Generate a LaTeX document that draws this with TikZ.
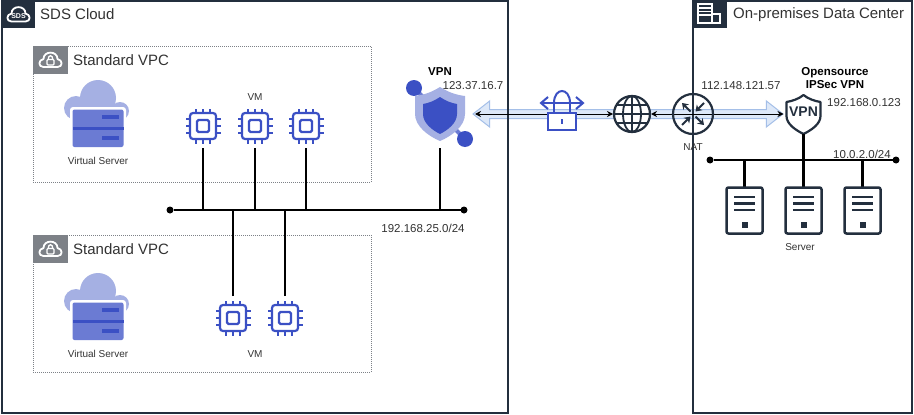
\documentclass[tikz,border=0pt]{standalone}
\usepackage{fontspec}
\setmainfont{Liberation Sans}
\usepackage{xcolor}
\usetikzlibrary{arrows.meta,positioning,shapes.arrows}
\definecolor{framedark}{HTML}{232F3E}
\definecolor{vpcgray}{HTML}{7D8187}
\definecolor{iconblue}{HTML}{3B50C4}
\definecolor{iconlight}{HTML}{A5B0E3}
\definecolor{iconmid}{HTML}{6B7BD3}
\definecolor{txtgray}{HTML}{333333}
\definecolor{tunnelline}{HTML}{A4BFE8}
\definecolor{tunnelfill}{HTML}{DDE8F8}

\begin{document}
\begin{tikzpicture}[
    x=1pt, y=-1pt,
    spot/.style={inner sep=0pt, outer sep=0pt, minimum size=#1},
    frame/.style={draw=framedark, line width=2.8pt, inner sep=0pt, outer sep=0pt},
    vpcbox/.style={draw=vpcgray, line width=1pt, densely dotted, minimum width=338pt, minimum height=136pt, inner sep=0pt, outer sep=0pt},
    framehead/.style={fill=framedark, minimum width=33pt, minimum height=27pt, inner sep=0pt, outer sep=0pt},
    vpchead/.style={fill=vpcgray, minimum width=35pt, minimum height=28pt, inner sep=0pt, outer sep=0pt},
    title/.style={font=\fontsize{15}{18}\selectfont, text=txtgray, inner sep=0pt},
    lbl/.style={font=\fontsize{10}{12}\selectfont, text=txtgray, inner sep=0pt},
    addr/.style={font=\fontsize{11.5}{14}\selectfont, text=txtgray, inner sep=0pt},
    strong/.style={font=\fontsize{11.5}{13}\selectfont\bfseries, text=black, align=center, inner sep=0pt},
    dot/.style={circle, fill=black, minimum size=7pt, inner sep=0pt, outer sep=0pt},
    wire/.style={line width=2.8pt, black},
    arr/.style={{Stealth[length=6pt,width=6pt]}-{Stealth[length=6pt,width=6pt]}, line width=1pt, black},
    tunnel/.style={double arrow, draw=tunnelline, fill=tunnelfill, line width=1pt, minimum width=25pt, double arrow head extend=8.5pt, double arrow tip angle=76, inner xsep=0pt, inner ysep=4pt, outer sep=0pt},
    cloudline/.pic={
        \draw[white, line width=1.8pt, line join=round] (-7,7) .. controls (-12.5,7) and (-12.5,0) .. (-7,-1) .. controls (-7,-9.5) and (7,-9.5) .. (7,-1) .. controls (12.5,0) and (12.5,7) .. (7,7) -- cycle;
    },
    chipicon/.pic={
        \draw[iconblue, line width=2.2pt, rounded corners=3pt] (-13,-13) rectangle (13,13);
        \draw[iconblue, line width=2.2pt, rounded corners=1.5pt] (-6,-6) rectangle (6,6);
        \foreach \p in {-7,0,7} {
            \draw[iconblue, line width=2.2pt] (\p,-13) -- (\p,-17.5);
            \draw[iconblue, line width=2.2pt] (\p,13) -- (\p,17.5);
            \draw[iconblue, line width=2.2pt] (-13,\p) -- (-17.5,\p);
            \draw[iconblue, line width=2.2pt] (13,\p) -- (17.5,\p);
        }
    },
    vsicon/.pic={
        \fill[iconlight] (0,-19) circle[radius=18];
        \fill[iconlight] (-22,-9) circle[radius=12];
        \fill[iconlight] (22,-6) circle[radius=9];
        \fill[iconlight] (-22,-9) rectangle (22,6);
        \fill[white, rounded corners=3pt] (-28,-10) rectangle (28,33);
        \fill[iconmid, rounded corners=2pt] (-25.5,-7.5) rectangle (25.5,30);
        \fill[iconblue] (-25.5,9.5) rectangle (25.5,13);
        \fill[iconblue] (4,-2) rectangle (21,2);
        \fill[iconblue] (4,19) rectangle (21,23);
    },
    servericon/.pic={
        \draw[framedark, line width=2.5pt, rounded corners=2pt, fill=white] (-18,-23) rectangle (18,23);
        \foreach \p in {-13.5,-7,-0.5} {
            \draw[framedark, line width=2.3pt] (-10.5,\p) -- (10.5,\p);
        }
        \fill[framedark] (-3,11.5) rectangle (3,17.5);
    },
    lockicon/.pic={
        \draw[iconblue, line width=2pt, fill=white] (-14,-1) rectangle (14,16);
        \draw[iconblue, line width=2pt] (0,5) -- (0,10);
        \draw[iconblue, line width=2pt] (-20,-11) -- (20,-11);
        \draw[iconblue, line width=2pt] (-14,-5) -- (-21,-11) -- (-14,-17);
        \draw[iconblue, line width=2pt] (14,-5) -- (21,-11) -- (14,-17);
        \draw[iconblue, line width=2pt] (-8,-11) -- (-8,-1);
        \draw[iconblue, line width=2pt] (8,-11) -- (8,-1);
        \draw[iconblue, line width=2pt] (-8,-11) .. controls (-8,-27) and (8,-27) .. (8,-11);
    },
    globeicon/.pic={
        \draw[framedark, line width=2.2pt, fill=white] (0,0) circle[radius=18];
        \draw[framedark, line width=1.8pt] (0,0) ellipse[x radius=9, y radius=18];
        \draw[framedark, line width=1.8pt] (0,-18) -- (0,18);
        \draw[framedark, line width=1.8pt] (-18,0) -- (18,0);
        \draw[framedark, line width=1.8pt] (-15.5,-9) -- (15.5,-9);
        \draw[framedark, line width=1.8pt] (-15.5,9) -- (15.5,9);
    },
    naticon/.pic={
        \draw[framedark, line width=2.2pt] (0,0) circle[radius=20];
        \draw[framedark, line width=2pt, -{Stealth[length=6pt,width=8pt]}] (-2.5,-2.5) -- (-11,-11);
        \draw[framedark, line width=2pt, -{Stealth[length=6pt,width=8pt]}] (11,-11) -- (2.5,-2.5);
        \draw[framedark, line width=2pt, -{Stealth[length=6pt,width=8pt]}] (-11,11) -- (-2.5,2.5);
        \draw[framedark, line width=2pt, -{Stealth[length=6pt,width=8pt]}] (2.5,2.5) -- (11,11);
    },
    shieldicon/.pic={
        \draw[iconmid, line width=4pt] (-26,-26) -- (25,25);
        \fill[iconlight] (0,-27) .. controls (-8,-22) and (-16,-19) .. (-25,-18) -- (-25,0) .. controls (-25,12) and (-12,22) .. (0,27) .. controls (12,22) and (25,12) .. (25,0) -- (25,-18) .. controls (16,-19) and (8,-22) .. (0,-27) -- cycle;
        \fill[iconblue] (0,-17) .. controls (-6,-13) and (-11,-11) .. (-17,-10) -- (-17,0) .. controls (-17,9) and (-8,16) .. (0,20) .. controls (8,16) and (17,9) .. (17,0) -- (17,-10) .. controls (11,-11) and (6,-13) .. (0,-17) -- cycle;
        \fill[iconblue] (-26,-26) circle[radius=8];
        \fill[iconblue] (25,25) circle[radius=8];
    },
    badgeicon/.pic={
        \draw[framedark, line width=2.2pt, fill=white, line join=round] (0,-19) .. controls (-5,-15) and (-11,-13) .. (-17,-12) -- (-17,2) .. controls (-17,10) and (-8,16) .. (0,20) .. controls (8,16) and (17,10) .. (17,2) -- (17,-12) .. controls (11,-13) and (5,-15) .. (0,-19) -- cycle;
    },
]
\useasboundingbox (0,0) rectangle (914,415);
\fill[white] (0,0) rectangle (914,415);

% Tunnel
\node[tunnel, minimum height=310pt] (tunnelarrow) at (628,114) {};

% SDS Cloud
\node[frame, minimum width=506pt, minimum height=412pt] (sdsframe) at (255,207) {};
\node[framehead] (sdshead) at (18.5,14.5) {};
\pic at (sdshead) {cloudline};
\node[font=\fontsize{7}{8}\selectfont\bfseries, text=white, inner sep=0pt] (sdsmark) at (18.5,16) {SDS};
\node[title, right=5pt of sdshead] (sdstitle) {SDS Cloud};

% On-premises
\node[frame, minimum width=219pt, minimum height=412pt] (dcframe) at (802.5,207) {};
\node[framehead, minimum width=34pt] (dchead) at (710,14.5) {};
\draw[white, line width=1.8pt] (698,4) rectangle (712,23);
\draw[white, line width=1.8pt] (712,14) rectangle (720,23);
\draw[white, line width=1.4pt] (698,8) -- (712,8);
\draw[white, line width=1.4pt] (698,11.5) -- (712,11.5);
\draw[white, line width=1.4pt] (698,15) -- (712,15);
\node[title, right=6pt of dchead] (dctitle) {On-premises Data Center};

% Upper VPC
\node[vpcbox] (vpca) at (202,114) {};
\node[vpchead] (vpcahead) at (50.5,60) {};
\pic at (vpcahead) {cloudline};
\draw[white, line width=1.3pt, rounded corners=1pt] (47,59.5) rectangle (54,65);
\draw[white, line width=1.3pt] (48.2,59.5) .. controls (48.2,54.5) and (52.8,54.5) .. (52.8,59.5);
\node[title, right=5pt of vpcahead] (vpcatitle) {Standard VPC};
\node[spot=1pt] (vsa) at (98,117) {};
\pic at (vsa) {vsicon};
\node[lbl] (vsalabel) at (98,161) {Virtual Server};

% Lower VPC
\node[vpcbox, minimum height=137pt] (vpcb) at (202,303.5) {};
\node[vpchead] (vpcbhead) at (50.5,249) {};
\pic at (vpcbhead) {cloudline};
\draw[white, line width=1.3pt, rounded corners=1pt] (47,248.5) rectangle (54,254);
\draw[white, line width=1.3pt] (48.2,248.5) .. controls (48.2,243.5) and (52.8,243.5) .. (52.8,248.5);
\node[title, right=5pt of vpcbhead] (vpcbtitle) {Standard VPC};
\node[spot=1pt] (vsb) at (98,310) {};
\pic at (vsb) {vsicon};
\node[lbl] (vsblabel) at (98,354) {Virtual Server};

% VMs
\node[spot=44pt] (chipa) at (203,126) {};
\node[spot=44pt, right=8pt of chipa] (chipb) {};
\node[spot=44pt, right=7pt of chipb] (chipc) {};
\node[spot=44pt] (chipd) at (233,318) {};
\node[spot=44pt, right=8pt of chipd] (chipe) {};
\foreach \c in {chipa,chipb,chipc,chipd,chipe} {
    \pic at (\c) {chipicon};
}
\node[lbl] (vmtop) at (255,97) {VM};
\node[lbl] (vmbottom) at (255,354) {VM};

% Bus 192.168.25.0/24
\node[dot] (busl) at (170,210) {};
\node[dot] (busr) at (464,210) {};
\draw[wire] (busl) -- (busr);
\node[addr] (busaddr) at (423,228) {192.168.25.0/24};

% VPN
\node[spot=68pt, minimum width=70pt] (vpn) at (440,114) {};
\pic at (vpn) {shieldicon};
\node[strong] (vpnlabel) at (440,72) {VPN};
\node[addr] (vpnaddr) at (473,86) {123.37.16.7};
\draw[wire] (vpn.south) -- (vpn.south |- busr);

\draw[wire] (chipa.south) -- (chipa.south |- busl);
\draw[wire] (chipb.south) -- (chipb.south |- busl);
\draw[wire] (chipc.south) -- (chipc.south |- busl);
\draw[wire] (chipd.north) -- (chipd.north |- busl);
\draw[wire] (chipe.north) -- (chipe.north |- busl);

% Internet path
\node[spot=24pt, minimum width=42pt] (lock) at (562,114) {};
\node[spot=38pt] (globe) at (632,114) {};
\node[spot=40pt] (nat) at (693,114) {};
\node[spot=40pt] (ipsec) at (803.5,114) {};
\draw[arr] (vpn.east) -- (globe.west);
\draw[arr] (globe.east) -- (ipsec.west);
\pic at (lock) {lockicon};
\pic at (globe) {globeicon};
\pic at (nat) {naticon};
\node[lbl] (natlabel) at (693,147) {NAT};
\node[addr] (nataddr) at (741,86) {112.148.121.57};

% Opensource VPN
\pic at (ipsec) {badgeicon};
\node[font=\fontsize{14}{16}\selectfont\bfseries, text=framedark, inner sep=0pt] (ipsecmark) at (803.5,112) {VPN};
\node[strong] (ipseclabel) at (835,78.5) {Opensource\\IPSec VPN};
\node[addr] (ipsecaddr) at (864,103) {192.168.0.123};

% Servers
\node[dot] (lanl) at (710,160) {};
\node[dot] (lanr) at (896,160) {};
\draw[wire] (lanl) -- (lanr);
\node[addr] (lanaddr) at (862,154) {10.0.2.0/24};
\node[spot=46pt, minimum width=36pt] (srvb) at (803.5,210.5) {};
\node[spot=46pt, minimum width=36pt, left=23pt of srvb] (srva) {};
\node[spot=46pt, minimum width=36pt, right=23pt of srvb] (srvc) {};
\draw[wire] (srva.north) -- (srva.north |- lanl);
\draw[wire] (ipsec.south) -- (srvb.north);
\draw[wire] (srvc.north) -- (srvc.north |- lanl);
\foreach \c in {srva,srvb,srvc} {
    \pic at (\c) {servericon};
}
\node[lbl] (srvlabel) at (800,247) {Server};
\end{tikzpicture}
\end{document}
